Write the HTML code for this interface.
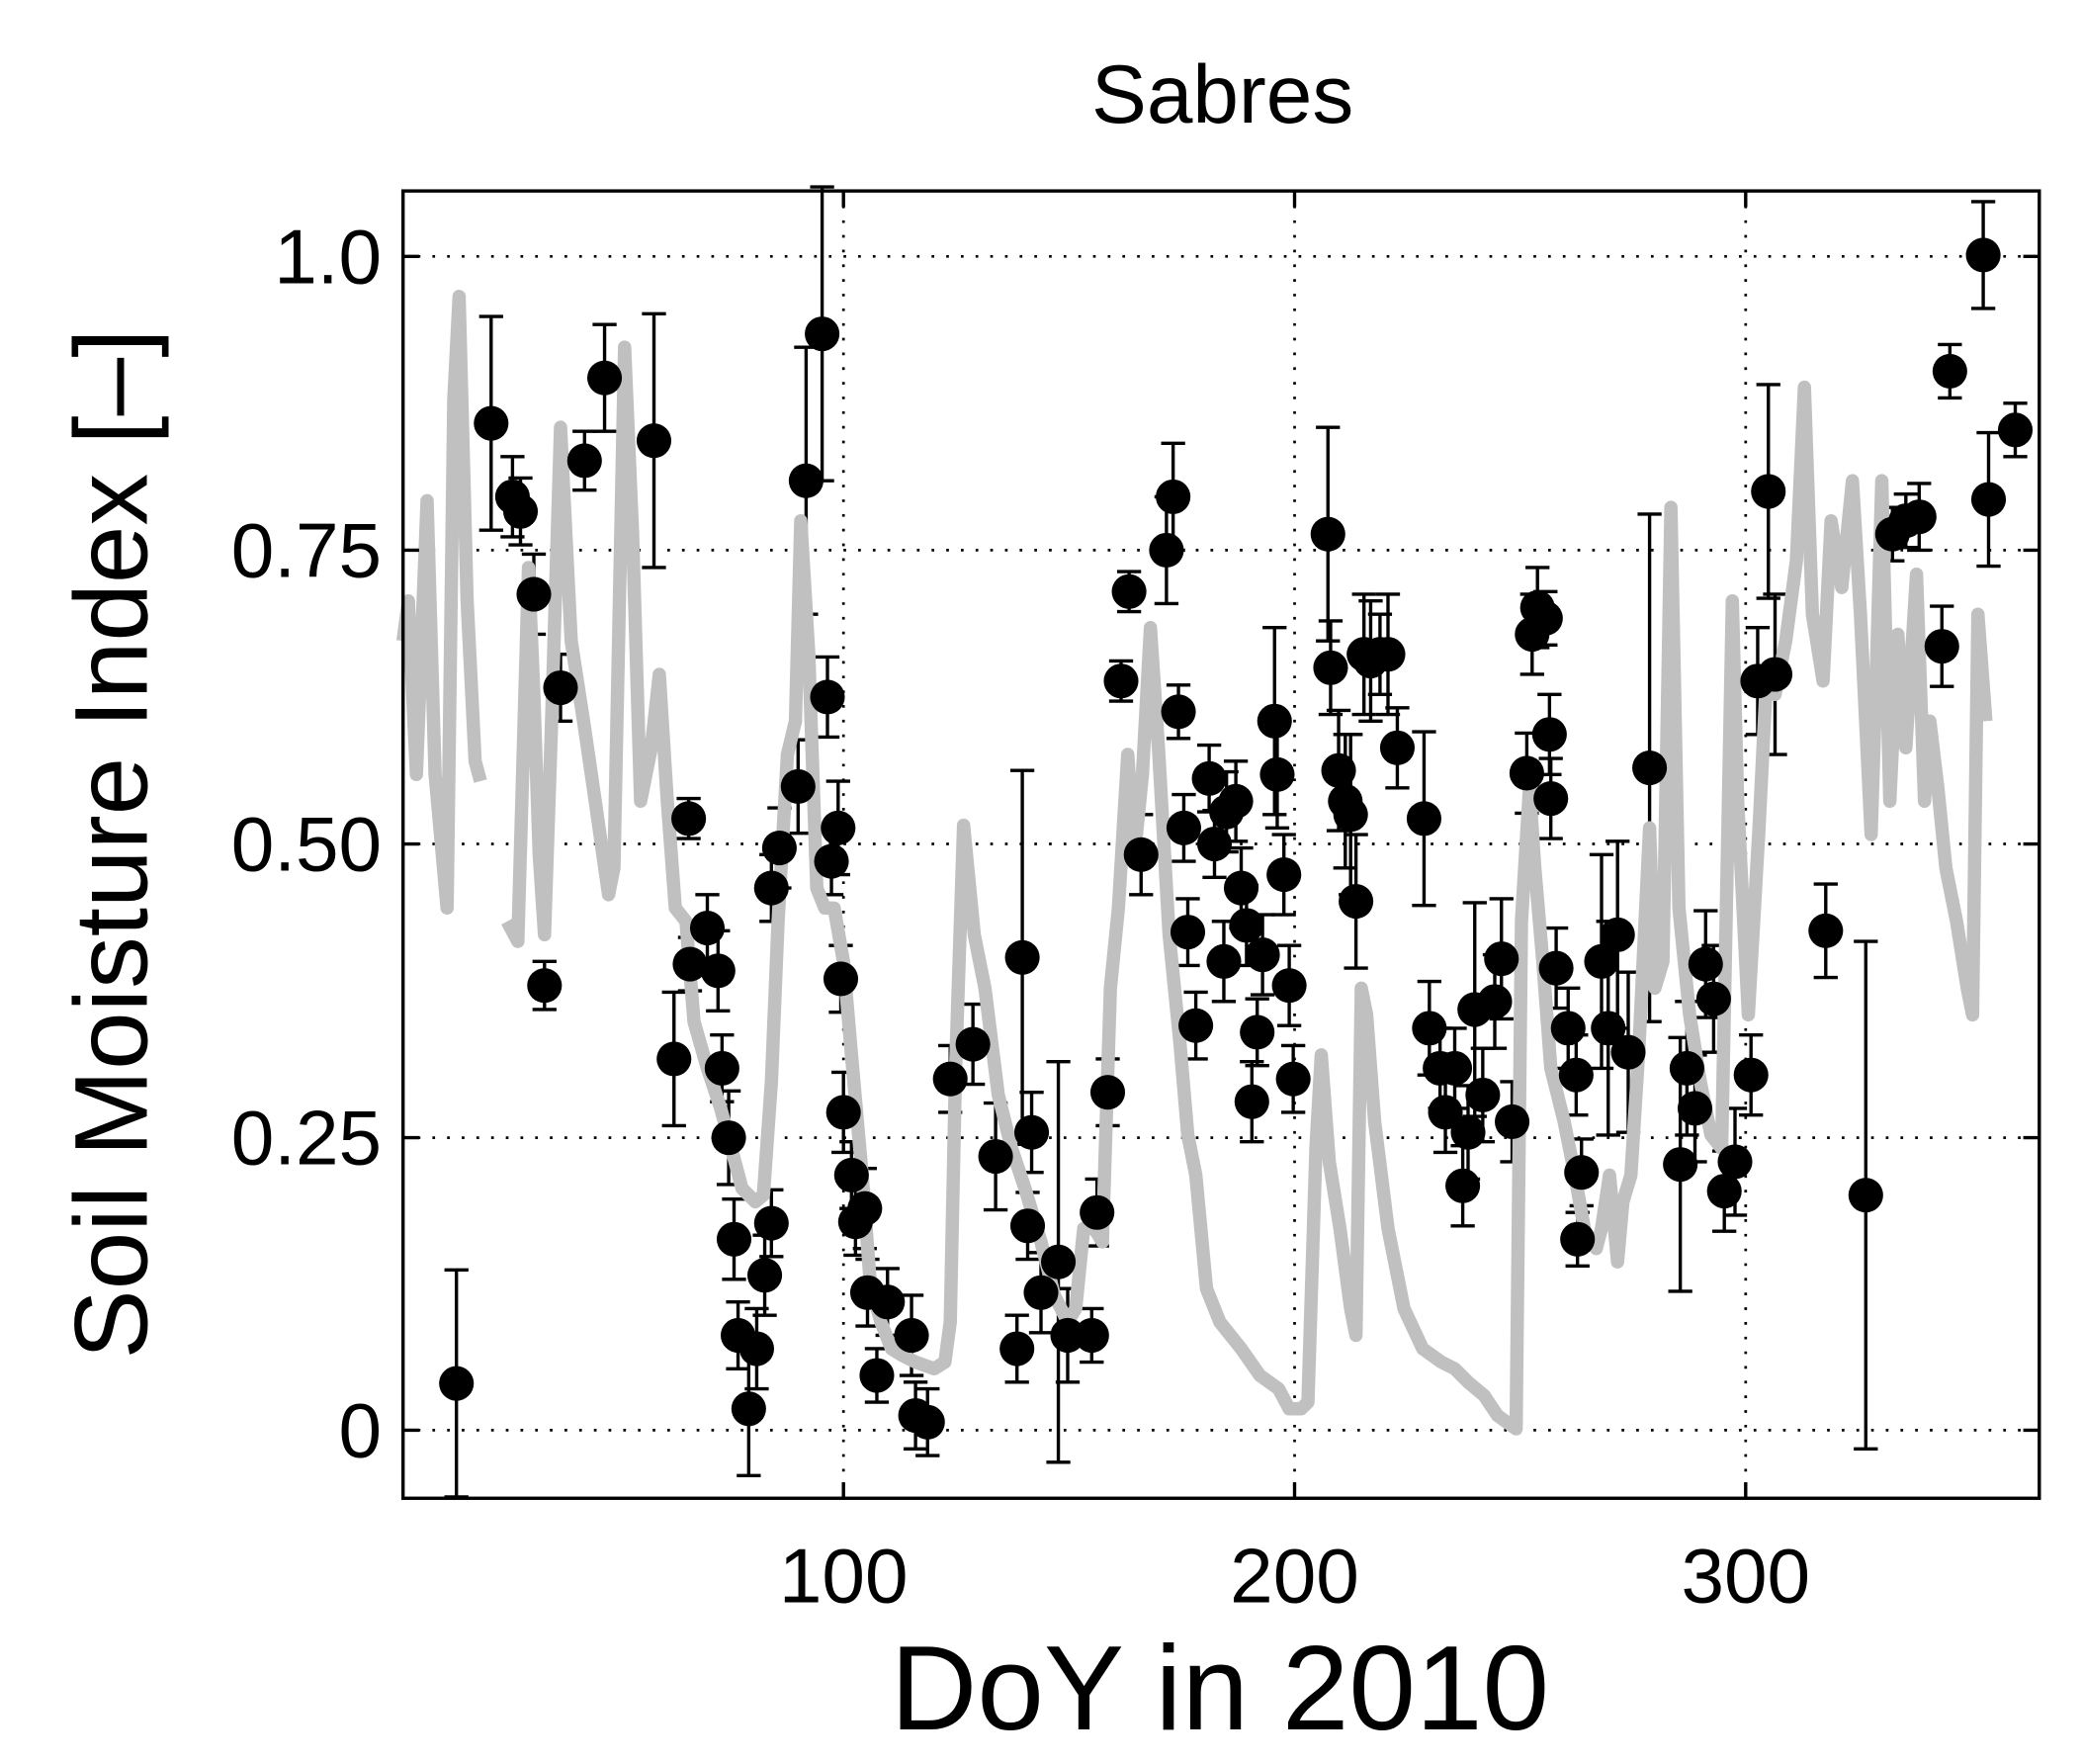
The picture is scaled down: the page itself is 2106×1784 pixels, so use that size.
<!DOCTYPE html>
<html><head><meta charset="utf-8"><style>html,body{margin:0;padding:0;background:#fff}svg{display:block}</style></head>
<body>
<svg id="s" width="2106" height="1784" viewBox="0 0 1560 1321" preserveAspectRatio="none" xmlns="http://www.w3.org/2000/svg" font-family="Liberation Sans, sans-serif">
<rect width="1560" height="1321" fill="#fff"/>
<g stroke="#000" stroke-width="2" stroke-dasharray="2,9">
<line x1="632" y1="143" x2="632" y2="1122"/><line x1="970" y1="143" x2="970" y2="1122"/><line x1="1308" y1="143" x2="1308" y2="1122"/>
<line x1="302" y1="192" x2="1528" y2="192"/><line x1="302" y1="412" x2="1528" y2="412"/><line x1="302" y1="632" x2="1528" y2="632"/><line x1="302" y1="852" x2="1528" y2="852"/><line x1="302" y1="1071" x2="1528" y2="1071"/>
</g>
<g id="err" stroke="#000" stroke-width="2.5"></g>
<polyline id="g1" fill="none" stroke="#c0c0c0" stroke-width="10" stroke-linejoin="round"/>
<polyline id="g2" fill="none" stroke="#c0c0c0" stroke-width="10" stroke-linejoin="round"/>
<g id="dots" fill="#000"></g>
<rect x="302" y="143" width="1226" height="979" fill="none" stroke="#000" stroke-width="2.5"/>
<g stroke="#000" stroke-width="2.5">
<line x1="632" y1="1122" x2="632" y2="1110"/><line x1="970" y1="1122" x2="970" y2="1110"/><line x1="1308" y1="1122" x2="1308" y2="1110"/>
<line x1="632" y1="143" x2="632" y2="155"/><line x1="970" y1="143" x2="970" y2="155"/><line x1="1308" y1="143" x2="1308" y2="155"/>
<line x1="302" y1="192" x2="314" y2="192"/><line x1="302" y1="412" x2="314" y2="412"/><line x1="302" y1="632" x2="314" y2="632"/><line x1="302" y1="852" x2="314" y2="852"/><line x1="302" y1="1071" x2="314" y2="1071"/>
<line x1="1528" y1="192" x2="1516" y2="192"/><line x1="1528" y1="412" x2="1516" y2="412"/><line x1="1528" y1="632" x2="1516" y2="632"/><line x1="1528" y1="852" x2="1516" y2="852"/><line x1="1528" y1="1071" x2="1516" y2="1071"/>
</g>
<g font-size="58" text-anchor="end">
<text x="286" y="212">1.0</text><text x="286" y="432">0.75</text><text x="286" y="652">0.50</text><text x="286" y="872">0.25</text><text x="286" y="1091">0</text>
</g>
<g font-size="58" text-anchor="middle">
<text x="632" y="1200">100</text><text x="970" y="1200">200</text><text x="1308" y="1200">300</text>
<text x="916" y="92" font-size="62">Sabres</text>
<text x="914" y="1295" font-size="90">DoY in 2010</text>
<text transform="translate(110,632) rotate(-90)" font-size="78">Soil Moisture Index [–]</text>
</g>
</svg>
<script>
var P=[[342,1036,85],[368,317,80],[384,372,30],[390,383,25],[400,445,30],[408,738,18],[420,515,25],[438,345,22],[453,283,40],[490,330,95],[505,793,50],[516,613,15],[517,722,20],[530,695,25],[538,727,30],[541,800,25],[546,852,35],[550,928,30],[553,1000,25],[561,1055,50],[567,1010,30],[573,955,30],[578,916,25],[578,665,25],[584,635,30],[598,589,35],[604,360,100],[616,250,110],[620,522,30],[623,645,25],[628,620,35],[630,733,25],[632,833,30],[638,880,25],[641,915,25],[648,905,30],[650,968,25],[657,1030,20],[665,975,25],[683,1000,30],[686,1060,25],[695,1065,25],[712,808,25],[729,782,30],[746,866,40],[766,717,140],[773,848,30],[762,1010,25],[770,918,25],[780,968,30],[793,945,150],[800,1000,35],[818,1000,20],[822,908,25],[830,818,25],[840,510,15],[846,443,15],[855,640,30],[874,412,40],[879,372,40],[883,533,20],[887,620,25],[890,698,25],[896,768,25],[906,583,25],[910,632,25],[917,720,30],[919,608,30],[926,600,30],[930,665,30],[934,693,30],[938,825,30],[942,773,25],[946,715,30],[955,540,70],[957,580,40],[962,655,30],[966,738,30],[969,808,25],[995,400,80],[997,500,35],[1003,577,45],[1008,600,50],[1012,610,60],[1016,675,50],[1022,490,45],[1027,495,45],[1034,490,30],[1040,490,45],[1047,560,30],[1067,613,65],[1071,770,35],[1079,800,30],[1083,833,30],[1090,800,30],[1096,888,30],[1100,848,35],[1105,756,80],[1111,820,35],[1120,750,35],[1125,718,45],[1133,840,30],[1144,579,30],[1148,475,30],[1152,455,30],[1158,463,20],[1161,550,30],[1162,598,30],[1166,725,30],[1175,770,30],[1181,805,30],[1185,878,25],[1182,928,20],[1200,720,80],[1205,770,80],[1212,700,70],[1220,788,60],[1236,575,190],[1259,872,95],[1264,800,50],[1270,830,40],[1278,722,40],[1284,748,40],[1292,892,30],[1300,870,40],[1312,805,30],[1317,510,40],[1325,368,80],[1330,505,60],[1368,697,35],[1398,895,190],[1418,400,20],[1428,390,20],[1438,387,25],[1455,484,30],[1461,278,20],[1486,191,40],[1490,374,50],[1510,322,20]];
var e='',d='';P.forEach(function(p){var x=p[0],y=p[1],r=p[2];e+='<line x1="'+x+'" y1="'+(y-r)+'" x2="'+x+'" y2="'+(y+r)+'"/><line x1="'+(x-9)+'" y1="'+(y-r)+'" x2="'+(x+9)+'" y2="'+(y-r)+'"/><line x1="'+(x-9)+'" y1="'+(y+r)+'" x2="'+(x+9)+'" y2="'+(y+r)+'"/>';d+='<circle cx="'+x+'" cy="'+y+'" r="13"/>';});
document.getElementById('err').innerHTML=e;document.getElementById('dots').innerHTML=d;
document.getElementById('g1').setAttribute('points','302,480 306,450 312,580 320,375 326,580 335,680 340,300 344,222 350,450 356,570 360,585');
document.getElementById('g2').setAttribute('points','380,690 388,705 396,425 400,520 404,640 408,700 413,550 420,320 428,480 438,545 446,600 456,670 460,650 468,260 474,400 480,600 488,560 494,505 500,600 506,680 514,690 520,765 530,800 540,830 548,860 556,890 566,900 572,895 578,810 583,690 590,565 596,540 600,390 606,490 612,665 618,680 625,680 632,720 638,790 646,880 652,960 660,990 668,1010 676,1015 686,1020 700,1025 708,1020 712,990 716,800 722,618 730,700 738,740 748,820 758,860 768,890 780,930 790,970 800,990 806,980 812,920 820,920 826,930 832,740 838,680 845,565 850,640 856,580 862,470 868,560 876,700 884,780 890,850 896,880 904,965 914,990 930,1010 944,1030 958,1040 966,1055 975,1055 980,1050 986,860 990,790 996,870 1004,920 1012,980 1016,1000 1020,740 1024,760 1030,840 1040,920 1052,980 1066,1010 1080,1020 1090,1025 1100,1035 1112,1045 1122,1060 1136,1070 1140,690 1146,590 1150,650 1156,720 1162,800 1172,840 1180,880 1188,925 1196,935 1200,920 1206,880 1212,945 1216,900 1222,880 1228,785 1236,620 1240,740 1246,720 1252,380 1258,680 1266,760 1274,810 1282,850 1290,860 1298,450 1302,600 1310,760 1318,620 1324,500 1330,520 1338,480 1346,420 1352,290 1358,460 1366,510 1372,390 1380,440 1388,360 1394,460 1402,625 1406,500 1410,360 1416,600 1422,475 1428,560 1436,430 1442,600 1446,540 1452,590 1458,650 1466,690 1474,740 1478,760 1482,460 1488,540');
</script>
</body></html>
